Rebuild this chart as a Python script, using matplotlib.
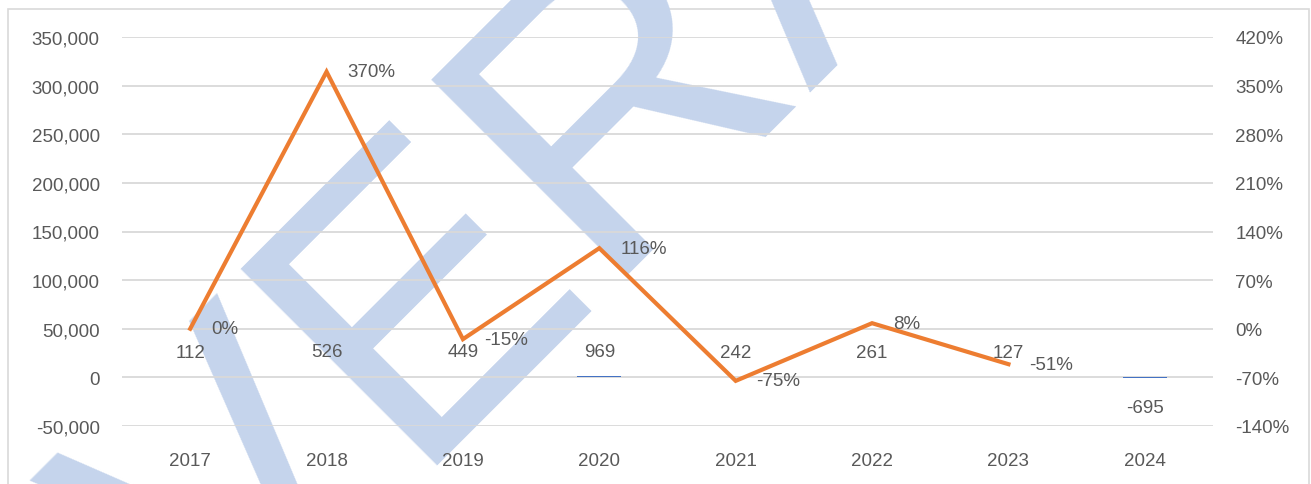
import matplotlib
matplotlib.use('Agg')
import matplotlib.pyplot as plt
from matplotlib.patches import Rectangle
from matplotlib.ticker import FuncFormatter, MultipleLocator

years = ['2017', '2018', '2019', '2020', '2021', '2022', '2023', '2024']
amounts = [112, 526, 449, 969, 242, 261, 127, -695]
growth = [0, 370, -15, 116, -75, 8, -51]   # % (no value for 2024)

plt.rcParams['font.family'] = ['Liberation Sans', 'DejaVu Sans']
text_col = '#595959'
fs = 13.5

fig = plt.figure(figsize=(13.11, 4.85), dpi=100)

# outer chart border
fig.patches.append(Rectangle((8 / 1311, -0.1), 1301 / 1311, 1.1 - 10 / 485,
                             transform=fig.transFigure, fill=False,
                             edgecolor='#D9D9D9', lw=1.2, zorder=-2))

# watermark behind the chart
fig.text(0.411, 0.555, 'VERA', fontsize=290, color='#C5D4EC', rotation=45,
         rotation_mode='anchor', ha='center', va='center', zorder=-1)

ax = fig.add_axes([122 / 1311, 1 - 427 / 485, (1213 - 122) / 1311, (427 - 38) / 485])
ax.patch.set_visible(False)
x = list(range(len(years)))

bars = ax.bar(x, amounts, width=0.32, color='#4472C4', zorder=2)
ax.set_ylim(-50000, 350000)
ax.set_xlim(-0.5, len(years) - 0.5)
ax.yaxis.set_major_locator(MultipleLocator(50000))
ax.yaxis.set_major_formatter(FuncFormatter(lambda v, p: f'{int(v):,}'))
ax.grid(axis='y', color='#D9D9D9', lw=1.3, zorder=0)
ax.set_axisbelow(True)
ax.set_xticks(x)
ax.set_xticklabels(years)
for s in ax.spines.values():
    s.set_visible(False)
ax.tick_params(axis='both', length=0, labelsize=fs, colors=text_col)
ax.tick_params(axis='x', pad=19)
ax.tick_params(axis='y', pad=16)

for xi, v in zip(x, amounts):
    off = 18 if v >= 0 else -21
    ax.annotate(str(v), (xi, v), xytext=(0, off), textcoords='offset points',
                ha='center', va='center', fontsize=fs, color=text_col, zorder=5)

ax2 = ax.twinx()
ax2.patch.set_visible(False)
ax2.plot(x[:len(growth)], growth, color='#ED7D31', lw=3, solid_joinstyle='miter', zorder=3)
ax2.set_ylim(-140, 420)
ax2.yaxis.set_major_locator(MultipleLocator(70))
ax2.yaxis.set_major_formatter(FuncFormatter(lambda v, p: f'{int(v)}%'))
for s in ax2.spines.values():
    s.set_visible(False)
ax2.tick_params(axis='y', length=0, labelsize=fs, colors=text_col, pad=16)

for xi, g in zip(x, growth):
    ax2.annotate(f'{g}%', (xi, g), xytext=(15, 0), textcoords='offset points',
                 ha='left', va='center', fontsize=fs, color=text_col, zorder=5)

fig.savefig('out.png', dpi=100)
